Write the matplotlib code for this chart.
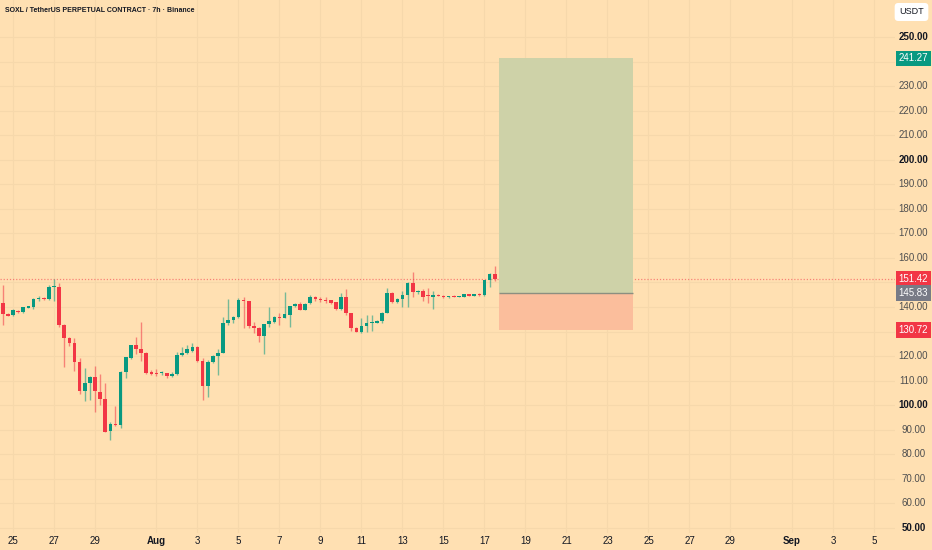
import datetime as dt
import matplotlib.pyplot as plt
from matplotlib.patches import Rectangle

plt.rcParams['font.family'] = ['Liberation Sans', 'DejaVu Sans']

# 97 bars, OHLC
opens = [141.5, 137.2, 136.6, 138.5, 137.9, 139.8, 140.1, 143.2, 143.7, 143.2,
         148.3, 148.3, 132.7, 127.5, 125.4, 117.7, 105.7, 109.2, 111.6, 105.5,
         102.4, 89.4, 92.4, 91.9, 113.6, 119.1, 124.4, 123.0, 121.2, 113.6,
         113.2, 113.0, 113.0, 112.0, 112.6, 120.3, 121.2, 122.2, 123.6, 118.2,
         107.8, 117.8, 120.0, 121.4, 133.4, 134.7, 136.1, 142.9, 142.3, 132.4,
         131.6, 128.2, 133.0, 134.0, 135.9, 135.4, 136.8, 140.4, 141.4, 138.9,
         141.8, 144.2, 143.3, 143.0, 142.9, 141.9, 139.1, 144.0, 137.5, 131.6,
         130.0, 132.3, 133.6, 133.6, 134.3, 137.7, 145.9, 141.9, 143.4, 144.8,
         149.9, 146.0, 146.4, 144.6, 144.2, 145.0, 144.6, 144.0, 144.6, 144.2,
         144.2, 145.3, 144.7, 145.3, 145.0, 151.0, 153.3]
highs = [149.0, 137.6, 139.0, 138.8, 140.2, 140.5, 143.8, 144.3, 144.2, 148.9,
         151.4, 149.7, 133.0, 128.0, 127.3, 119.1, 115.0, 111.9, 116.0, 112.7,
         109.2, 93.3, 99.7, 113.8, 119.6, 124.6, 127.7, 134.0, 121.5, 114.2,
         114.7, 114.0, 113.3, 113.6, 121.5, 123.6, 124.5, 125.2, 124.0, 119.1,
         118.4, 120.4, 122.8, 136.1, 143.2, 136.5, 143.6, 143.9, 142.6, 134.0,
         131.8, 133.1, 140.1, 136.2, 137.4, 146.0, 140.6, 141.7, 142.1, 141.6,
         144.9, 144.6, 144.0, 144.0, 142.9, 142.2, 145.9, 147.2, 137.6, 131.7,
         135.4, 136.8, 136.8, 134.6, 137.8, 147.6, 146.3, 143.6, 146.7, 150.0,
         154.1, 147.0, 147.2, 147.6, 146.7, 145.3, 144.8, 144.7, 144.8, 144.7,
         145.5, 145.5, 145.5, 145.6, 151.0, 153.7, 156.8]
lows = [132.7, 136.2, 136.3, 137.6, 137.7, 139.6, 139.3, 142.6, 142.8, 142.8,
        142.6, 132.0, 115.7, 124.0, 114.0, 104.5, 101.9, 102.2, 97.1, 100.1,
        89.0, 85.8, 91.6, 90.6, 111.0, 118.7, 120.9, 118.0, 112.7, 112.4,
        112.0, 112.5, 111.0, 111.4, 112.2, 120.0, 120.8, 121.8, 117.6, 102.1,
        103.5, 117.3, 112.2, 121.1, 132.7, 133.5, 135.4, 131.6, 131.3, 129.6,
        125.9, 120.8, 132.0, 133.6, 132.6, 135.4, 131.8, 140.2, 138.8, 138.7,
        141.2, 142.6, 142.2, 141.5, 141.2, 138.8, 138.8, 136.8, 130.4, 129.7,
        129.5, 130.0, 130.2, 133.3, 133.6, 137.4, 141.5, 141.7, 140.1, 140.1,
        144.0, 145.3, 142.5, 141.5, 139.1, 144.3, 143.8, 143.8, 144.0, 144.0,
        144.0, 144.3, 144.5, 144.4, 144.6, 148.3, 150.8]
closes = [137.0, 136.5, 138.7, 137.9, 139.9, 140.3, 143.4, 143.7, 143.2, 148.3,
          148.7, 132.7, 127.5, 125.4, 117.6, 105.7, 109.0, 111.6, 105.8, 102.5,
          89.2, 92.4, 91.9, 113.6, 119.5, 124.5, 122.9, 121.2, 113.3, 112.9,
          112.9, 113.6, 112.0, 112.6, 120.5, 121.1, 122.9, 123.6, 118.2, 107.8,
          117.8, 120.1, 121.4, 133.4, 134.7, 136.1, 142.9, 142.3, 132.4, 131.5,
          128.2, 133.1, 134.3, 135.9, 135.4, 137.0, 140.4, 141.4, 138.9, 141.4,
          144.2, 143.2, 143.0, 142.6, 141.8, 139.1, 144.0, 137.5, 131.6, 130.0,
          132.3, 133.6, 134.0, 134.3, 137.7, 145.9, 141.9, 143.4, 144.8, 149.9,
          146.0, 146.5, 144.2, 144.4, 144.9, 144.6, 144.0, 144.5, 144.2, 144.5,
          145.3, 144.5, 145.3, 145.0, 151.0, 153.3, 151.42]

# time axis: 4 bars per day, bar 2 opens Jul 25
first_label_day = dt.date(2025, 7, 25)
bars_per_day = 4
label_days = ([dt.date(2025, 7, d) for d in (25, 27, 29)]
              + [dt.date(2025, 8, 1)]
              + [dt.date(2025, 8, d) for d in range(3, 30, 2)]
              + [dt.date(2025, 9, d) for d in (1, 3, 5)])

price_ticks = list(range(50, 260, 10))
bold_ticks = [50, 100, 200, 250]
hidden_ticks = [240, 150, 130]   # covered by the price tags

# long position tool
take_profit = 241.27
entry = 145.83
stop_loss = 130.72
last_price = 151.42
tool_start, tool_end = 96.8, 123.0

BG = '#ffe0b2'
UP = '#089981'
DOWN = '#f23645'
GRID = '#f6d8ab'

fig = plt.figure(figsize=(9.32, 5.5), dpi=100)
fig.patch.set_facecolor(BG)
ax = fig.add_axes([0, 17 / 550, 895 / 932, 533 / 550])
ax.set_facecolor(BG)
ax.set_xlim(-0.53, 174.1)
ax.set_ylim(47.96, 265.07)
for s in ax.spines.values():
    s.set_visible(False)
ax.set_xticks([])
ax.set_yticks([])

tick_x = [2 + bars_per_day * (d - first_label_day).days for d in label_days]
for p in price_ticks:
    ax.axhline(p, color=GRID, lw=0.8, zorder=0)
for x in tick_x:
    ax.axvline(x, color=GRID, lw=0.8, zorder=0)

xs = list(range(len(opens)))
cols = [UP if c >= o else DOWN for o, c in zip(opens, closes)]
ax.vlines(xs, lows, highs, colors=cols, alpha=0.55, lw=1, zorder=2)
bottoms = [min(o, c) for o, c in zip(opens, closes)]
heights = [max(abs(c - o), 0.4) for o, c in zip(opens, closes)]
ax.bar(xs, heights, bottom=bottoms, width=0.7, color=cols, zorder=3)

ax.axhline(last_price, color=DOWN, ls=(0, (1, 1.5)), lw=0.9, alpha=0.55, zorder=1)

w = tool_end - tool_start
ax.add_patch(Rectangle((tool_start, entry), w, take_profit - entry,
                       facecolor='#ced2a8', edgecolor='none', zorder=4))
ax.add_patch(Rectangle((tool_start, stop_loss), w, entry - stop_loss,
                       facecolor='#fbbe9c', edgecolor='none', zorder=4))
ax.hlines(entry, tool_start, tool_end, color='#8c8f80', lw=1, zorder=5)

ytr = ax.get_yaxis_transform()
lx = 913.5 / 895
for p in price_ticks:
    if p in hidden_ticks:
        continue
    b = p in bold_ticks
    ax.text(lx, p, f'{p:.2f}', transform=ytr, ha='center', va='center',
            fontsize=7, color='#131722' if b else '#4f4f4f',
            fontweight='bold' if b else 'normal', clip_on=False)

for val, col in [(take_profit, UP), (last_price, DOWN), (entry, '#787b86'),
                 (stop_loss, DOWN)]:
    ax.text(lx, val, f'{val:.2f}', transform=ytr, ha='center', va='center',
            fontsize=7, color='white', zorder=10, clip_on=False,
            bbox=dict(boxstyle='square,pad=0.3', fc=col, ec='none'))

xtr = ax.get_xaxis_transform()
for x, d in zip(tick_x, label_days):
    if d.day == 1:
        txt, fw = d.strftime('%b'), 'bold'
    else:
        txt, fw = str(d.day), 'normal'
    ax.text(x, -8 / 533, txt, transform=xtr, ha='center', va='center',
            fontsize=7, color='#131722', fontweight=fw, clip_on=False)

fig.text(911.5 / 932, 1 - 12 / 550, 'USDT', ha='center', va='center',
         fontsize=6.5, color='#131722',
         bbox=dict(boxstyle='round,pad=0.5,rounding_size=0.4', fc='white', ec='none'))
fig.text(5 / 932, 1 - 10 / 550,
         'SOXL / TetherUS PERPETUAL CONTRACT · 7h · Binance',
         ha='left', va='center', fontsize=5.0, fontweight='bold', color='#131722')

fig.savefig('out.png', dpi=100, facecolor=BG)
